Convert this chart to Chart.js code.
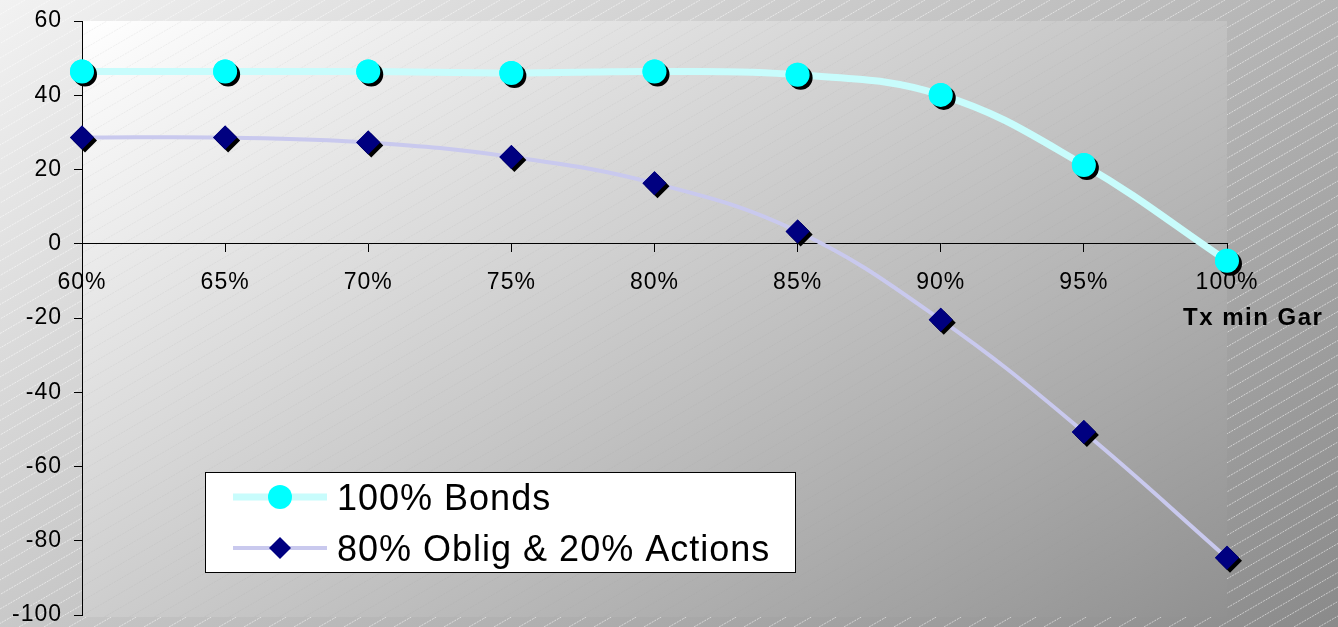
<!DOCTYPE html>
<html>
<head>
<meta charset="utf-8">
<script src="https://cdn.jsdelivr.net/npm/chart.js@4"></script>
<style>
  html, body { margin: 0; padding: 0; background: #ccc; }
  #wrap { width: 1338px; height: 627px; position: relative; }
</style>
</head>
<body>
<div id="wrap"><canvas id="chart" width="1338" height="627"></canvas></div>
<script>
// Data
const rateLabels = ['60%', '65%', '70%', '75%', '80%', '85%', '90%', '95%', '100%'];
const bondsValues = [46.4, 46.4, 46.4, 46.0, 46.4, 45.5, 40.1, 21.2, -4.6];
const mixValues = [28.6, 28.6, 27.3, 23.4, 16.3, 3.3, -20.5, -50.7, -84.6];
const seriesNames = ['100% Bonds', '80% Oblig & 20% Actions'];
const axisTitle = 'Tx min Gar';
const yTicks = { min: -100, max: 60, step: 20 };

const FONT = "'Liberation Sans', Arial, sans-serif";
const SHADOW = 3;

// Diagonal hatch lines
function hatch(ctx, x0, y0, x1, y1, color) {
    ctx.save();
    ctx.beginPath();
    ctx.rect(x0, y0, x1 - x0, y1 - y0);
    ctx.clip();
    ctx.strokeStyle = color;
    ctx.lineWidth = 1;
    ctx.setLineDash([2, 1]);
    const slope = 0.58, gap = 25;
    const h = y1 - y0;
    for (let x = x0 - h / slope; x < x1 + gap; x += gap) {
        ctx.beginPath();
        ctx.moveTo(x, y1);
        ctx.lineTo(x + h / slope, y0);
        ctx.stroke();
    }
    ctx.restore();
}

const backgroundPlugin = {
    id: 'background',
    beforeUpdate(chart) { chart.ctx.letterSpacing = '1px'; },
    beforeDraw(chart) {
        const ctx = chart.ctx;
        const w = chart.width, h = chart.height;
        const a = chart.chartArea;
        ctx.save();
        ctx.letterSpacing = '0px';
        let g = ctx.createLinearGradient(0, 0, 740, 1050);
        g.addColorStop(0, '#f2f2f2');
        g.addColorStop(1, '#8a8a8a');
        ctx.fillStyle = g;
        ctx.fillRect(0, 0, w, h);
        hatch(ctx, 0, 0, w, h, 'rgba(255,255,255,0.55)');

        g = ctx.createLinearGradient(a.left, a.top, a.left + 640, a.top + 1000);
        g.addColorStop(0, '#ffffff');
        g.addColorStop(1, '#8a8a8a');
        ctx.fillStyle = g;
        ctx.fillRect(a.left, a.top, a.right - a.left, a.bottom - a.top + 2);
        hatch(ctx, a.left, a.top, a.right, a.bottom + 2, 'rgba(150,150,150,0.12)');
        ctx.restore();
        ctx.letterSpacing = '1px';
    },
    afterDatasetsDraw(chart) {
        const ctx = chart.ctx;
        chart.data.datasets.forEach((ds, i) => {
            const meta = chart.getDatasetMeta(i);
            meta.data.forEach(pt => {
                ctx.save();
                ctx.fillStyle = '#000';
                Chart.helpers.drawPoint(ctx, { pointStyle: ds.pointStyle, radius: ds.pointRadius, rotation: 0, borderWidth: 0 }, pt.x + SHADOW, pt.y + SHADOW);
                ctx.restore();
                pt.draw(ctx, chart.chartArea);
            });
        });
    },
    afterDraw(chart) {
        const ctx = chart.ctx;
        ctx.save();
        // axis title
        ctx.letterSpacing = '1.5px';
        ctx.fillStyle = '#000';
        ctx.font = 'bold 24px ' + FONT;
        ctx.textAlign = 'left';
        ctx.textBaseline = 'alphabetic';
        ctx.fillText(axisTitle, 1183, 325);

        // legend box
        ctx.letterSpacing = '0px';
        ctx.fillStyle = '#fff';
        ctx.fillRect(205, 472, 591, 101);
        ctx.strokeStyle = '#000';
        ctx.lineWidth = 1;
        ctx.strokeRect(205.5, 472.5, 590, 100);
        const rows = [497, 548];
        chart.data.datasets.forEach((ds, i) => {
            const y = rows[i];
            ctx.strokeStyle = ds.borderColor;
            ctx.lineWidth = ds.borderWidth;
            ctx.beginPath();
            ctx.moveTo(233, y);
            ctx.lineTo(327, y);
            ctx.stroke();
            ctx.fillStyle = ds.pointBackgroundColor;
            Chart.helpers.drawPoint(ctx, { pointStyle: ds.pointStyle, radius: i === 0 ? 12 : 11, rotation: 0, borderWidth: 0 }, 280, y);
            ctx.fillStyle = '#000';
            ctx.font = '36px ' + FONT;
            ctx.letterSpacing = '1px';
            ctx.textBaseline = 'alphabetic';
            ctx.fillText(ds.label, 337, y + 13);
            ctx.letterSpacing = '0px';
        });
        ctx.restore();
    }
};

new Chart(document.getElementById('chart'), {
    type: 'line',
    data: {
        labels: rateLabels,
        datasets: [{
            label: seriesNames[0],
            data: bondsValues,
            borderColor: '#c8fcfc',
            borderWidth: 7,
            tension: 0.4,
            pointStyle: 'circle',
            pointRadius: 12,
            pointBackgroundColor: '#00ffff',
            pointBorderWidth: 0
        }, {
            label: seriesNames[1],
            data: mixValues,
            borderColor: '#c9c9ee',
            borderWidth: 4,
            tension: 0.4,
            pointStyle: 'rectRot',
            pointRadius: 12,
            pointBackgroundColor: '#000080',
            pointBorderWidth: 0
        }]
    },
    options: {
        responsive: false,
        animation: false,
        layout: { padding: { top: 21, right: 111, bottom: 12, left: 0 } },
        plugins: {
            legend: { display: false },
            tooltip: { enabled: false }
        },
        scales: {
            x: {
                position: { y: 0 },
                offset: false,
                grid: { drawOnChartArea: false, color: '#000', tickLength: 8 },
                border: { color: '#000', width: 1 },
                ticks: { color: '#000', font: { family: FONT, size: 23 }, padding: 17, maxRotation: 0, autoSkip: false }
            },
            y: {
                min: yTicks.min,
                max: yTicks.max,
                afterFit(scale) {
                    scale.width = 82;
                    scale.paddingTop = 0;
                    scale.paddingBottom = 0;
                },
                grid: { drawOnChartArea: false, color: '#000', tickLength: 8 },
                border: { color: '#000', width: 1 },
                ticks: { stepSize: yTicks.step, color: '#000', font: { family: FONT, size: 23 }, padding: 12 }
            }
        }
    },
    plugins: [backgroundPlugin]
});
</script>
</body>
</html>
